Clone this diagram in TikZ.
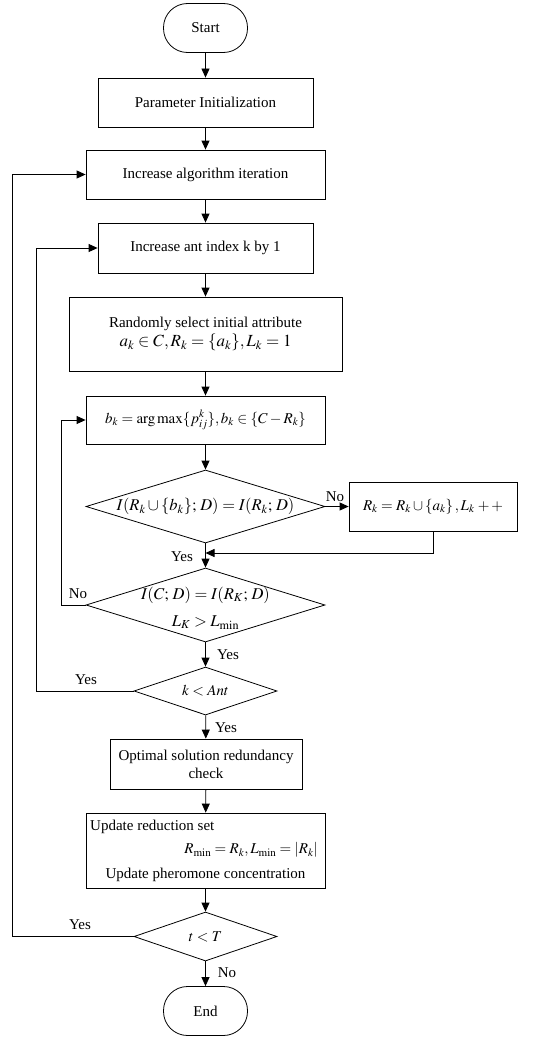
\documentclass[tikz,border=0pt]{standalone}
\usepackage{mathptmx}
\usepackage[no-math]{fontspec}
\setmainfont{Liberation Serif}
\usetikzlibrary{shapes.geometric,arrows.meta}
\begin{document}
\begin{tikzpicture}[x=1pt,y=-1pt,
  every node/.style={font=\fontsize{15}{18}\selectfont},
  box/.style={draw, line width=0.8pt, rectangle, inner sep=0pt},
  term/.style={draw, line width=0.8pt, rectangle, rounded corners=24pt, minimum width=84pt, minimum height=49pt, inner sep=0pt},
  dec/.style={draw, line width=0.8pt, diamond, inner sep=0pt},
  flow/.style={line width=0.8pt, -{Triangle[length=9pt,width=8pt]}},
  lbl/.style={inner sep=0pt},
  bigmath/.style={font=\fontsize{16.5}{19}\selectfont}
]
\useasboundingbox (0,0) rectangle (536,1041);

\node[term] (start) at (205.5,28) {Start};
\node[box, minimum width=215pt, minimum height=49pt] (init) at (205.5,102.5) {Parameter Initialization};
\node[box, minimum width=239pt, minimum height=49pt] (iter) at (205.5,174.5) {Increase algorithm iteration};
\node[box, minimum width=215pt, minimum height=50pt] (ant) at (205.5,248) {Increase ant index k by 1};
\node[box, minimum width=273pt, minimum height=74pt, align=center] (rand) at (205.5,334)
  {Randomly select initial attribute\\[1pt] {\fontsize{17}{20}\selectfont $a_k\in C, R_k=\{a_k\}, L_k=1$}};
\node[box, minimum width=239pt, minimum height=48pt] (bk) at (205.5,420) {$b_k = \arg\max\{p_{ij}^k\}, b_k\in\{C-R_k\}$};

\node[dec, minimum width=239pt, minimum height=73pt] (d1) at (205.5,506.5) {};
\node[lbl, bigmath] (d1t) at (205.5,506.5) {$I(R_k\cup\{b_k\};\,D)=I(R_k;\,D)$};
\node[box, minimum width=168pt, minimum height=49pt] (add) at (433,506.5) {$R_k=R_k\cup\{a_k\}\,,L_k\;{+}\,{+}$};
\coordinate (m1) at (205.5,553);

\node[dec, minimum width=239pt, minimum height=74pt] (d2) at (205.5,605) {};
\node[lbl, bigmath, align=center] (d2t) at (205.5,608) {$I(C;\,D)=I(R_K;\,D)$\\[8pt]$L_K > L_{\min}$};

\node[dec, minimum width=143pt, minimum height=48pt] (d3) at (205.5,691) {};
\node[lbl] (d3t) at (205.5,691) {$k<Ant$};

\node[box, minimum width=192pt, minimum height=50pt, align=center] (opt) at (206,764) {Optimal solution redundancy\\check};

\node[box, minimum width=239pt, minimum height=75pt] (upd) at (205.5,850.5) {};
\node[lbl, anchor=west] (u1) at (90,827) {Update reduction set};
\node[lbl, anchor=east] (u2) at (318,850) {$R_{\min}=R_k, L_{\min}=\left|R_k\right|$};
\node[lbl] (u3) at (205.5,875) {Update pheromone concentration};

\node[dec, minimum width=143pt, minimum height=49pt] (d4) at (205.5,936.5) {};
\node[lbl] (d4t) at (205.5,936.5) {$t<T$};
\node[term] (end) at (205.5,1011) {End};

% connectors
\draw[flow] (start) -- (init);
\draw[flow] (init) -- (iter);
\draw[flow] (iter) -- (ant);
\draw[flow] (ant) -- (rand);
\draw[flow] (rand) -- (bk);
\draw[flow] (bk) -- (d1);
\draw[flow] (d1.east) -- (add.west);
\draw[flow] (d1) -- (d2);
\draw[flow] (add.south) |- (m1);
\draw[flow] (d2) -- (d3);
\draw[flow] (d2.west) -- ++(-24,0) |- (bk.west);
\draw[flow] (d3.west) -- ++(-97,0) |- (ant.west);
\draw[flow] (d3) -- (opt);
\draw[flow] (opt) -- (upd);
\draw[flow] (upd) -- (d4);
\draw[flow] (d4.west) -- ++(-121,0) |- (iter.west);
\draw[flow] (d4) -- (end);

% labels
\node[lbl] (l1) at (335,497) {No};
\node[lbl] (l2) at (182,557) {Yes};
\node[lbl] (l3) at (78,594) {No};
\node[lbl] (l4) at (228,655) {Yes};
\node[lbl] (l5) at (86,680) {Yes};
\node[lbl] (l6) at (226,728) {Yes};
\node[lbl] (l7) at (80,925) {Yes};
\node[lbl] (l8) at (227,973) {No};
\end{tikzpicture}
\end{document}
